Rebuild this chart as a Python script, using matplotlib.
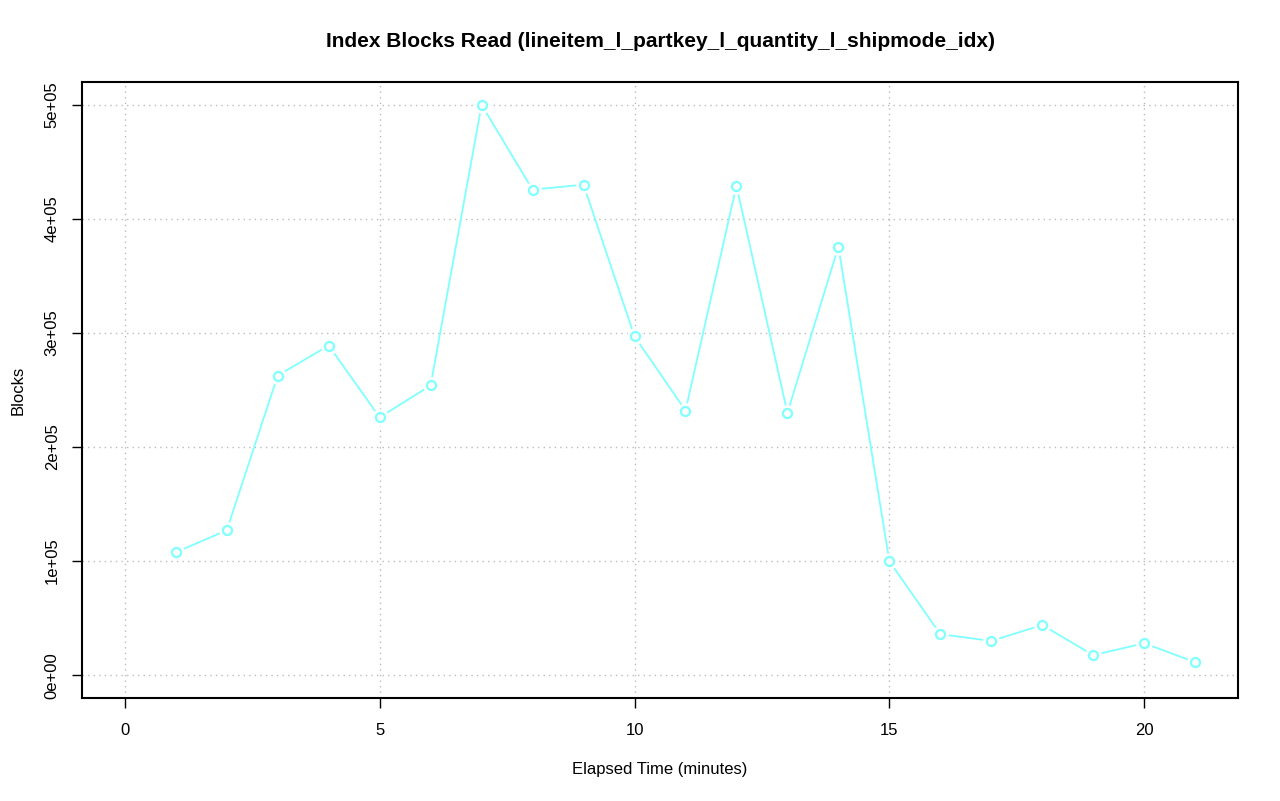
import matplotlib
matplotlib.use('Agg')
import matplotlib.pyplot as plt
from matplotlib.ticker import FuncFormatter

plt.rcParams.update({
    'font.family': 'Liberation Sans',
    'font.size': 12,
})

minutes = list(range(1, 22))
blocks = [107700, 127000, 262700, 289000, 226000, 254000, 500000, 425600,
          430000, 297000, 232000, 429000, 230000, 375700, 99800, 36000,
          30000, 44000, 17500, 28000, 11400]

line_col = '#80FFFF'

fig = plt.figure(figsize=(12.8, 8.01), dpi=100)
ax = fig.add_axes([82 / 1280, (801 - 698) / 801, (1238 - 82) / 1280, (698 - 82) / 801])

# type="b": line segments broken around the points
ax.plot(minutes, blocks, color=line_col, lw=1.3, zorder=2)
ax.plot(minutes, blocks, ls='none', marker='o', ms=11, mfc='white', mec='white', zorder=3)
ax.plot(minutes, blocks, ls='none', marker='o', ms=6.5, mfc='white', mec=line_col, mew=1.6, zorder=4)

ax.set_xlim(-0.84, 21.84)
ax.set_ylim(-20000, 520000)
ax.set_xticks([0, 5, 10, 15, 20])
ax.set_yticks([0, 100000, 200000, 300000, 400000, 500000])
ax.yaxis.set_major_formatter(FuncFormatter(lambda v, p: f'{int(round(v / 1e5))}e+0{5 if v else 0}'))
for lab in ax.get_yticklabels():
    lab.set_rotation(90)
    lab.set_va('center')
ax.tick_params(axis='both', length=7, width=1, color='black', labelsize=12)
ax.tick_params(axis='x', pad=11)
ax.tick_params(axis='y', pad=9)

ax.grid(True, color='#bbbbbb', linestyle=(0, (1, 3)), linewidth=1)
ax.set_axisbelow(True)
for s in ax.spines.values():
    s.set_linewidth(1.5)

ax.set_xlabel('Elapsed Time (minutes)', fontsize=12, labelpad=17)
ax.set_ylabel('Blocks', fontsize=12, labelpad=14)
ax.set_title('Index Blocks Read (lineitem_l_partkey_l_quantity_l_shipmode_idx)',
             fontsize=15, fontweight='bold', pad=25)

fig.savefig('out.png', dpi=100)
